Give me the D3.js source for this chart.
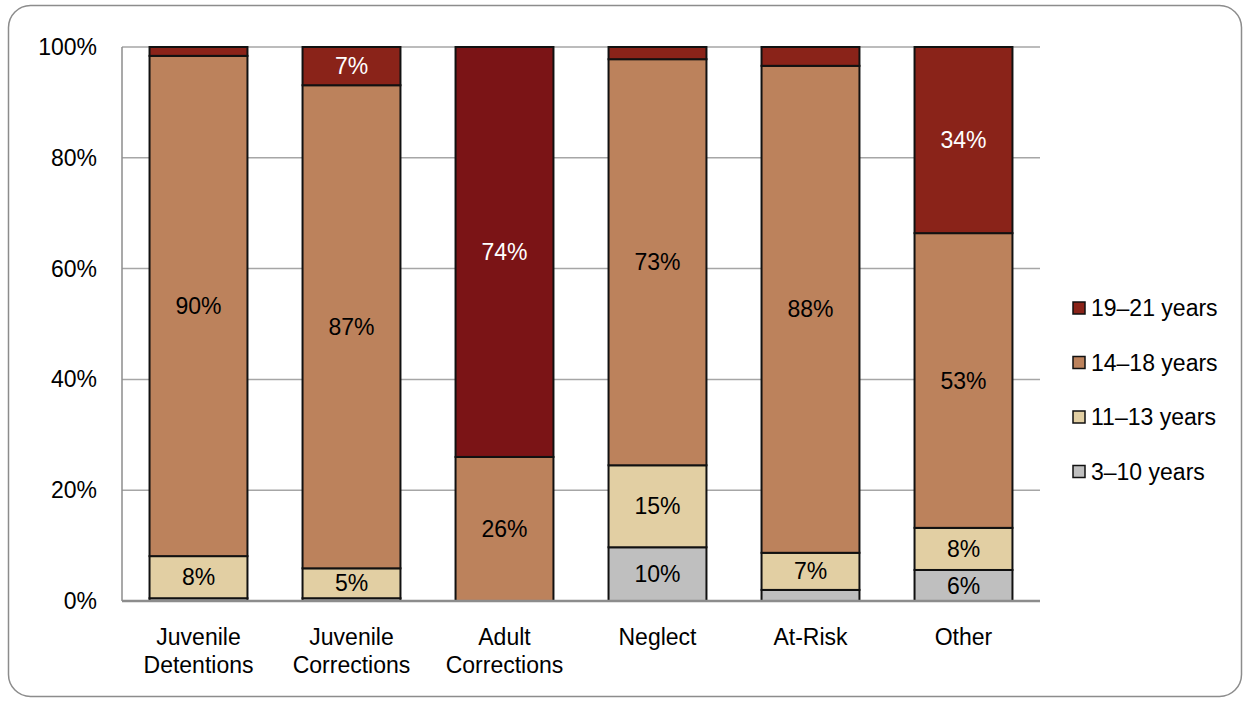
<!DOCTYPE html>
<html><head><meta charset="utf-8">
<script src="https://cdn.jsdelivr.net/npm/d3@7"></script>
<style>body{margin:0;background:#fff;}svg{display:block;font-family:"Liberation Sans",Arial,sans-serif;}</style>
</head><body>
<svg id="c" width="1250" height="702"></svg>
<script>
const categories = ["Juvenile Detentions","Juvenile Corrections","Adult Corrections","Neglect","At-Risk","Other"];
const seriesNames = ["3–10 years","11–13 years","14–18 years","19–21 years"];
const age3to10  = [0.5, 0.5, 0, 9.7, 2.0, 5.6];
const age11to13 = [7.6, 5.4, 0, 14.8, 6.7, 7.6];
const age14to18 = [90.3, 87.2, 26.0, 73.3, 87.9, 53.2];
const age19to21 = [1.6, 6.9, 74.0, 2.2, 3.4, 33.6];
const labels3to10  = ["", "", "", "10%", "", "6%"];
const labels11to13 = ["8%", "5%", "", "15%", "7%", "8%"];
const labels14to18 = ["90%", "87%", "26%", "73%", "88%", "53%"];
const labels19to21 = ["", "7%", "74%", "", "", "34%"];
const yTicks = [0, 20, 40, 60, 80, 100];

(function () {
const seriesValues = [age3to10, age11to13, age14to18, age19to21];
const seriesLabels = [labels3to10, labels11to13, labels14to18, labels19to21];
const colors = ["#bfbfbf", "#e2cfa3", "#bc825c", "#8a2319"];
const labelColors = ["#000", "#000", "#000", "#fff"];
const overrideFill = {"Adult Corrections|3": "#7b1416"};
const FS = 23;

const svg = d3.select("#c");
svg.append("rect").attr("x", 8.5).attr("y", 5.5).attr("width", 1233).attr("height", 691)
  .attr("rx", 22).attr("fill", "#fff").attr("stroke", "#8c8c8c").attr("stroke-width", 1.5);

const mLeft = 122, mRight = 1040, mTop = 47, mBottom = 601;
const x = d3.scaleBand().domain(categories).range([mLeft, mRight]).paddingInner(0.36).paddingOuter(0.18);
const y = d3.scaleLinear().domain([0, 100]).range([mBottom, mTop]);

svg.append("g").selectAll("line").data(yTicks.filter(t => t > 0)).join("line")
  .attr("x1", mLeft).attr("x2", mRight).attr("y1", d => y(d)).attr("y2", d => y(d))
  .attr("stroke", "#a6a6a6").attr("stroke-width", 1.5);
svg.append("line").attr("x1", mLeft).attr("x2", mLeft).attr("y1", mTop).attr("y2", mBottom)
  .attr("stroke", "#8c8c8c").attr("stroke-width", 1.5);

svg.append("g").selectAll("text").data(yTicks).join("text")
  .attr("x", 97).attr("y", d => y(d)).attr("dy", "0.35em").attr("text-anchor", "end")
  .attr("font-size", FS).attr("fill", "#000").text(d => d + "%");

const rows = categories.map((c, i) => {
  const o = {cat: c};
  seriesNames.forEach((s, k) => o[s] = seriesValues[k][i]);
  return o;
});
const stack = d3.stack().keys(seriesNames)(rows);

stack.forEach((layer, k) => {
  const g = svg.append("g");
  layer.forEach((d, i) => {
    const h = y(d[0]) - y(d[1]);
    if (h <= 0) return;
    const cat = categories[i];
    const fill = overrideFill[cat + "|" + k] || colors[k];
    g.append("rect").attr("x", x(cat)).attr("width", x.bandwidth())
      .attr("y", y(d[1])).attr("height", h).attr("fill", fill)
      .attr("stroke", "#111").attr("stroke-width", 2);
  });
});
stack.forEach((layer, k) => {
  layer.forEach((d, i) => {
    const lab = seriesLabels[k][i];
    if (!lab) return;
    const cat = categories[i];
    svg.append("text").attr("x", x(cat) + x.bandwidth() / 2).attr("y", (y(d[0]) + y(d[1])) / 2)
      .attr("dy", "0.35em").attr("text-anchor", "middle").attr("font-size", FS)
      .attr("fill", labelColors[k]).text(lab);
  });
});

svg.append("line").attr("x1", mLeft).attr("x2", mRight).attr("y1", mBottom).attr("y2", mBottom)
  .attr("stroke", "#8c8c8c").attr("stroke-width", 2.5);

categories.forEach(c => {
  const words = c.split(" ");
  const cx = x(c) + x.bandwidth() / 2;
  const t = svg.append("text").attr("x", cx).attr("y", 645)
    .attr("text-anchor", "middle").attr("font-size", FS).attr("fill", "#000");
  words.forEach((w, j) => t.append("tspan").attr("x", cx).attr("dy", j === 0 ? 0 : 28).text(w));
});

const legendOrder = seriesNames.map((s, k) => k).reverse();
const lg = svg.append("g");
legendOrder.forEach((k, j) => {
  const cy = 308 + j * 54.5;
  lg.append("rect").attr("x", 1073).attr("y", cy - 6).attr("width", 12).attr("height", 12)
    .attr("fill", colors[k]).attr("stroke", "#111").attr("stroke-width", 1.5);
  lg.append("text").attr("x", 1091).attr("y", cy).attr("dy", "0.35em")
    .attr("font-size", FS).attr("fill", "#000").text(seriesNames[k]);
});
})();
</script>
</body></html>
